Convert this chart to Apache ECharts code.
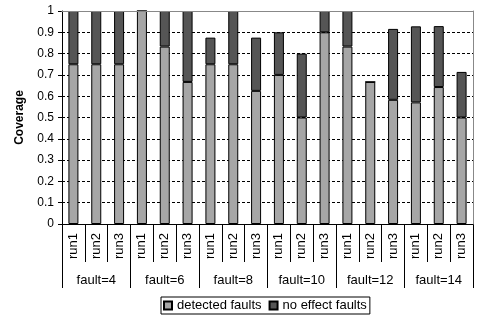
<!DOCTYPE html>
<html>
<head>
<meta charset="utf-8">
<script src="https://cdn.jsdelivr.net/npm/echarts@6/dist/echarts.min.js"></script>
<style>
  html, body { margin: 0; padding: 0; background: #fff; }
  #chart { width: 478px; height: 320px; }
</style>
</head>
<body>
<div id="chart"></div>
<script>
// Fault-injection coverage per run, grouped by number of injected faults
const runLabels = ['run1', 'run2', 'run3', 'run1', 'run2', 'run3', 'run1', 'run2', 'run3',
                   'run1', 'run2', 'run3', 'run1', 'run2', 'run3', 'run1', 'run2', 'run3'];
const faultGroups = ['fault=4', 'fault=6', 'fault=8', 'fault=10', 'fault=12', 'fault=14'];
const detectedFaults = [0.75, 0.75, 0.75, 1.0, 0.833, 0.667, 0.75, 0.75, 0.625,
                        0.7, 0.5, 0.9, 0.833, 0.667, 0.583, 0.571, 0.643, 0.5];
const noEffectFaults = [0.25, 0.25, 0.25, 0, 0.167, 0.333, 0.125, 0.25, 0.25,
                        0.2, 0.3, 0.1, 0.167, 0, 0.333, 0.357, 0.286, 0.214];
const yTicks = ['0', '0.1', '0.2', '0.3', '0.4', '0.5', '0.6', '0.7', '0.8', '0.9', '1'];

const FONT = 'Liberation Sans, Arial, sans-serif';
const chart = echarts.init(document.getElementById('chart'), null, { renderer: 'canvas' });

chart.setOption({
  animation: false,
  backgroundColor: '#fff',
  grid: { left: 62, right: 5, top: 11, bottom: 96, containLabel: false },
  legend: {
    left: 161,
    top: 297,
    data: ['detected faults', 'no effect faults'],
    icon: 'rect',
    itemWidth: 8,
    itemHeight: 8,
    itemGap: 7,
    padding: [2, 3, 2, 2],
    borderColor: '#000',
    borderWidth: 1,
    textStyle: { fontFamily: FONT, fontSize: 13, color: '#000' }
  },
  xAxis: [
    {
      type: 'category',
      data: runLabels,
      position: 'bottom',
      axisLine: { lineStyle: { color: '#000', width: 1 } },
      axisTick: { show: true, interval: 0, length: 38, lineStyle: { color: '#000' } },
      axisLabel: { interval: 0, rotate: 90, margin: 9, fontFamily: FONT, fontSize: 13, color: '#000' },
      splitLine: { show: false }
    },
    {
      type: 'category',
      data: faultGroups,
      position: 'bottom',
      axisLine: { show: false },
      axisTick: { show: true, interval: 0, length: 64, lineStyle: { color: '#000' } },
      axisLabel: { interval: 0, margin: 50, fontFamily: FONT, fontSize: 13, color: '#000' },
      splitLine: { show: false }
    },
    {
      type: 'category',
      data: faultGroups,
      position: 'top',
      z: 5,
      axisLine: { show: true, lineStyle: { color: '#888', width: 1 } },
      axisTick: { show: false },
      axisLabel: { show: false }
    }
  ],
  yAxis: [
    {
      type: 'value',
      min: 0,
      max: 1,
      interval: 0.1,
      name: 'Coverage',
      nameLocation: 'middle',
      nameRotate: 90,
      nameGap: 36,
      nameTextStyle: { fontFamily: FONT, fontSize: 12, fontWeight: 'bold', color: '#000' },
      axisLine: { show: true, lineStyle: { color: '#000', width: 1 } },
      axisTick: { show: true, length: 4, lineStyle: { color: '#000' } },
      axisLabel: {
        margin: 8,
        fontFamily: FONT,
        fontSize: 12,
        color: '#000',
        formatter: function (v) { return yTicks[Math.round(v * 10)]; }
      },
      splitLine: { show: true, lineStyle: { color: '#000', type: [3, 2], width: 1 } }
    },
    {
      type: 'value',
      min: 0,
      max: 1,
      position: 'right',
      z: 5,
      axisLine: { show: true, lineStyle: { color: '#888', width: 1 } },
      axisTick: { show: false },
      axisLabel: { show: false },
      splitLine: { show: false }
    }
  ],
  series: [
    {
      name: 'detected faults',
      type: 'bar',
      stack: 'coverage',
      xAxisIndex: 0,
      yAxisIndex: 0,
      barWidth: 10,
      data: detectedFaults,
      itemStyle: { color: '#a6a6a6', borderColor: '#000', borderWidth: 1 }
    },
    {
      name: 'no effect faults',
      type: 'bar',
      stack: 'coverage',
      xAxisIndex: 0,
      yAxisIndex: 0,
      barWidth: 10,
      data: noEffectFaults,
      itemStyle: { color: '#555555', borderColor: '#000', borderWidth: 1 }
    }
  ]
});
</script>
</body>
</html>
